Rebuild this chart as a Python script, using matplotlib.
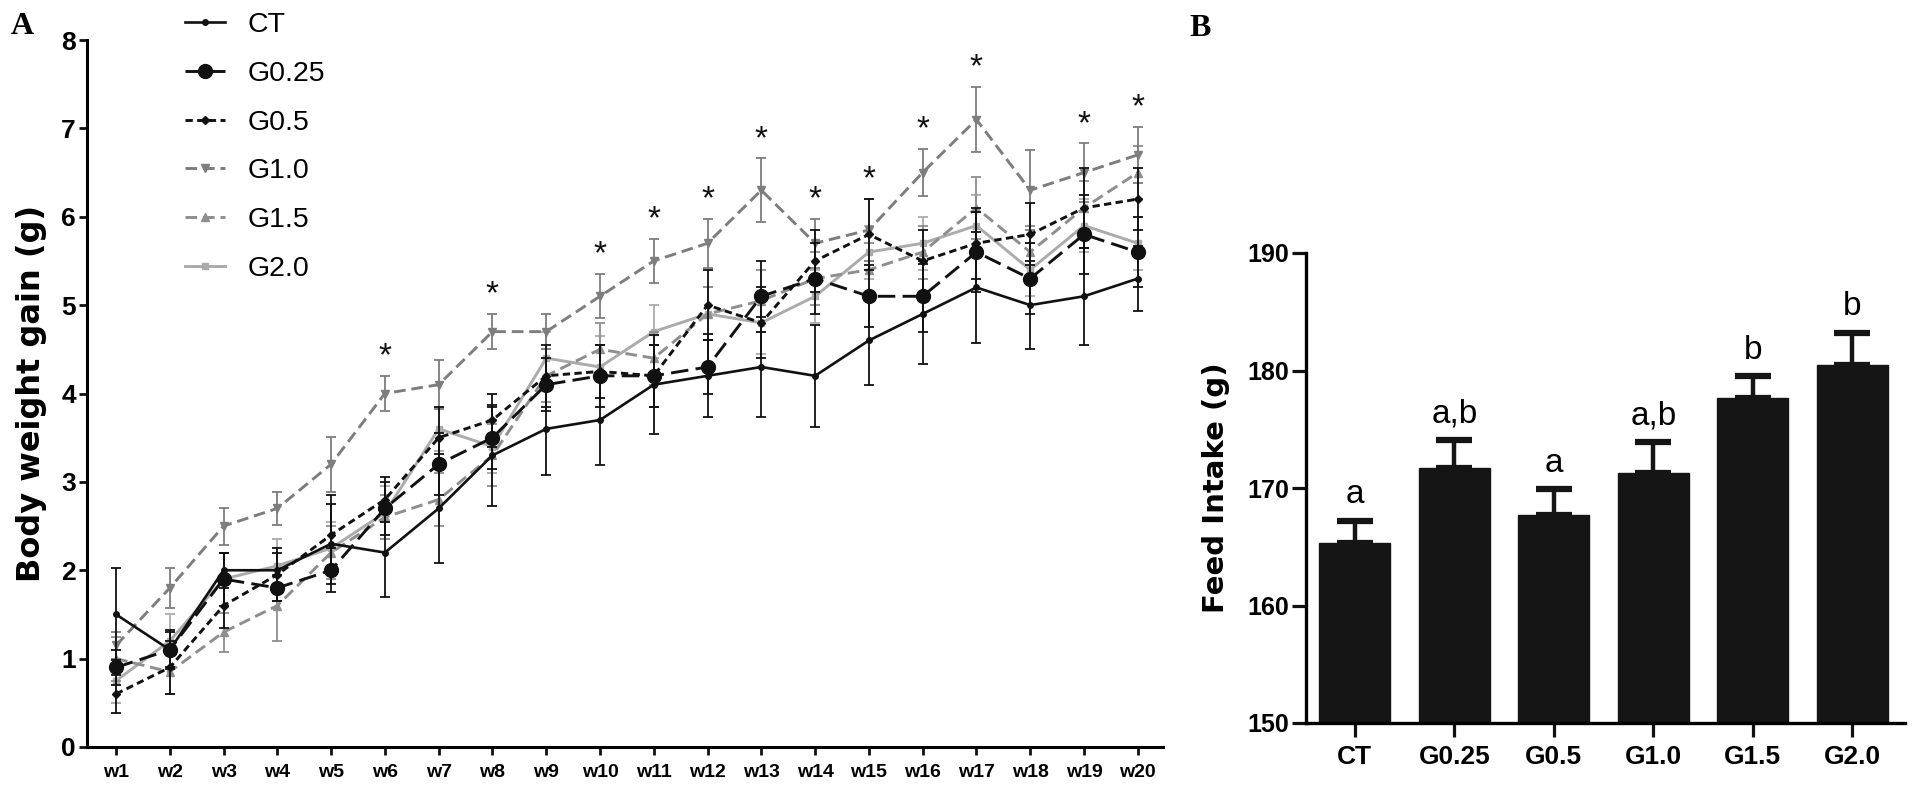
import matplotlib
matplotlib.use('Agg')
import matplotlib.pyplot as plt
from matplotlib import font_manager as fm
from matplotlib.lines import Line2D
import numpy as np

# ---------------- data ----------------
weeks = [f"w{i}" for i in range(1, 21)]
groups = ["CT", "G0.25", "G0.5", "G1.0", "G1.5", "G2.0"]

bw_ct = [1.5, 1.1, 2.0, 2.0, 2.3, 2.2, 2.7, 3.3, 3.6, 3.7, 4.1, 4.2, 4.3, 4.2, 4.6, 4.9, 5.2, 5.0, 5.1, 5.3]
bw_g025 = [0.9, 1.1, 1.9, 1.8, 2.0, 2.7, 3.2, 3.5, 4.1, 4.2, 4.2, 4.3, 5.1, 5.3, 5.1, 5.1, 5.6, 5.3, 5.8, 5.6]
bw_g05 = [0.6, 0.9, 1.6, 1.95, 2.4, 2.8, 3.5, 3.7, 4.2, 4.25, 4.2, 5.0, 4.8, 5.5, 5.8, 5.5, 5.7, 5.8, 6.1, 6.2]
bw_g10 = [1.15, 1.8, 2.5, 2.7, 3.2, 4.0, 4.1, 4.7, 4.7, 5.1, 5.5, 5.7, 6.3, 5.7, 5.85, 6.5, 7.1, 6.3, 6.5, 6.7]
bw_g15 = [1.0, 0.85, 1.3, 1.6, 2.2, 2.6, 2.8, 3.3, 4.2, 4.5, 4.4, 4.9, 5.05, 5.3, 5.4, 5.6, 6.1, 5.6, 6.1, 6.5]
bw_g20 = [0.75, 1.2, 1.9, 2.05, 2.25, 2.65, 3.6, 3.4, 4.4, 4.3, 4.7, 4.9, 4.8, 5.1, 5.6, 5.7, 5.9, 5.4, 5.9, 5.7]

err_ct = [0.52, 0.22, 0.2, 0.2, 0.45, 0.5, 0.62, 0.57, 0.52, 0.51, 0.56, 0.47, 0.57, 0.58, 0.5, 0.57, 0.63, 0.5, 0.55, 0.37]
err_g025 = [0.2, 0.2, 0.3, 0.15, 0.25, 0.3, 0.35, 0.35, 0.3, 0.35, 0.35, 0.3, 0.4, 0.4, 0.35, 0.4, 0.45, 0.4, 0.45, 0.4]
err_g05 = [0.22, 0.3, 0.25, 0.3, 0.45, 0.25, 0.35, 0.3, 0.35, 0.3, 0.35, 0.4, 0.4, 0.35, 0.4, 0.35, 0.4, 0.35, 0.45, 0.35]
err_g10 = [0.15, 0.23, 0.21, 0.19, 0.31, 0.2, 0.28, 0.2, 0.2, 0.25, 0.25, 0.28, 0.36, 0.28, 0.35, 0.27, 0.37, 0.45, 0.33, 0.32]
err_g15 = [0.25, 0.25, 0.22, 0.4, 0.3, 0.25, 0.3, 0.35, 0.3, 0.3, 0.3, 0.3, 0.35, 0.3, 0.3, 0.3, 0.35, 0.3, 0.3, 0.3]
err_g20 = [0.25, 0.3, 0.3, 0.3, 0.3, 0.3, 0.25, 0.3, 0.3, 0.35, 0.3, 0.3, 0.35, 0.3, 0.3, 0.3, 0.35, 0.3, 0.3, 0.3]

star_weeks = ["w6", "w8", "w10", "w11", "w12", "w13", "w14", "w15", "w16", "w17", "w19", "w20"]

feed_groups = ["CT", "G0.25", "G0.5", "G1.0", "G1.5", "G2.0"]
feed_mean = [165.3, 171.7, 167.7, 171.3, 177.7, 180.5]
feed_err = [1.9, 2.4, 2.2, 2.6, 1.8, 2.7]
feed_letters = ["a", "a,b", "a", "a,b", "b", "b"]

# ---------------- fonts ----------------
names = {f.name for f in fm.fontManager.ttflist}
SANS = 'Liberation Sans' if 'Liberation Sans' in names else 'DejaVu Sans'
NARROW = 'Liberation Sans Narrow' if 'Liberation Sans Narrow' in names else SANS
SERIF = 'Liberation Serif' if 'Liberation Serif' in names else 'DejaVu Serif'
WIDE = 'DejaVu Sans'
plt.rcParams['font.family'] = [SANS, 'DejaVu Sans']

W, H = 1920, 792
fig = plt.figure(figsize=(W / 100, H / 100), dpi=100)


def px_axes(x0, y0, x1, y1):
    return fig.add_axes([x0 / W, 1 - y1 / H, (x1 - x0) / W, (y1 - y0) / H])


# ---------------- panel A ----------------
AX0, AX1 = 87, 1163
ax = px_axes(AX0, 40, AX1, 747)
x = np.arange(1, len(weeks) + 1)

series = [
    ("CT", bw_ct, err_ct, dict(color='#111111', ls='-', marker='o', ms=4, lw=1.9), 10),
    ("G0.25", bw_g025, err_g025, dict(color='#111111', ls=(0, (6, 2.5)), marker='o', ms=10, lw=2.1), 9),
    ("G0.5", bw_g05, err_g05, dict(color='#111111', ls=(0, (2.5, 1.5)), marker='D', ms=4.5, lw=2.1), 8),
    ("G1.0", bw_g10, err_g10, dict(color='#7d7d7d', ls=(0, (4, 2)), marker='v', ms=6, lw=2.1), 6),
    ("G1.5", bw_g15, err_g15, dict(color='#8e8e8e', ls=(0, (4, 2)), marker='^', ms=6, lw=2.1), 5),
    ("G2.0", bw_g20, err_g20, dict(color='#ababab', ls='-', marker='s', ms=5, lw=2.1), 4),
]

handles = []
for name, vals, errs, st, z in series:
    ax.errorbar(x, vals, yerr=errs, color=st['color'], ecolor=st['color'],
                elinewidth=1.3, capsize=3.8, capthick=1.3,
                ls=st['ls'], marker=st['marker'], ms=st['ms'], lw=st['lw'],
                mec=st['color'], mfc=st['color'], zorder=z)
    handles.append(Line2D([], [], color=st['color'], ls=st['ls'], marker=st['marker'],
                          ms=st['ms'], lw=st['lw'], mec=st['color'], mfc=st['color']))

# significance stars above G1.0
for wk in star_weeks:
    i = weeks.index(wk)
    ax.text(x[i], bw_g10[i] + err_g10[i] + 0.04, "*", ha='center', va='bottom',
            fontsize=24, color='#111111')

ax.set_xlim(0.46, 20.47)
ax.set_ylim(0, 8)
ax.set_xticks(x)
ax.set_xticklabels(weeks, fontsize=14, fontweight='bold')
ax.set_yticks(range(0, 9))
ax.set_yticklabels([str(v) for v in range(0, 9)], fontsize=19, fontweight='bold')
for s in ['top', 'right']:
    ax.spines[s].set_visible(False)
for s in ['left', 'bottom']:
    ax.spines[s].set_linewidth(2.2)
ax.tick_params(axis='both', length=6, width=2, direction='out', color='#111111')
ax.tick_params(axis='x', pad=6)
ax.tick_params(axis='y', pad=2)
ax.set_ylabel("Body weight gain (g)", fontsize=23, fontweight='bold', family=WIDE)
ax.yaxis.set_label_coords((47 - AX0) / (AX1 - AX0), 0.5)

fs_leg = 20.5
leg = ax.legend(handles, groups, loc='upper left', bbox_to_anchor=(185 / W, 1 - 12 / H),
                bbox_transform=fig.transFigure, frameon=False, fontsize=fs_leg,
                handlelength=1.4, handletextpad=0.8, labelspacing=0.8, borderpad=0,
                borderaxespad=0)

fig.text(22 / W, 1 - 26 / H, "A", family=SERIF, fontweight='bold', fontsize=23,
         ha='center', va='center')

# ---------------- panel B ----------------
BX0, BX1 = 1306, 1905
ax2 = px_axes(BX0, 253, BX1, 723)
xb = np.arange(len(feed_groups))
ax2.bar(xb, [m - 150 for m in feed_mean], bottom=150, width=0.71, color='#151515',
        edgecolor='#151515', zorder=2)
ax2.errorbar(xb, feed_mean, yerr=[np.zeros(len(feed_err)), feed_err], fmt='none',
             ecolor='#151515', elinewidth=3.2, capsize=13, capthick=4.5, zorder=1)
for xi, m, e, lab in zip(xb, feed_mean, feed_err, feed_letters):
    ax2.text(xi, m + e + 0.9, lab, ha='center', va='bottom', fontsize=24, family=NARROW)

ax2.set_xlim(-0.49, 5.53)
ax2.set_ylim(150, 190)
ax2.set_yticks([150, 160, 170, 180, 190])
ax2.set_yticklabels(['150', '160', '170', '180', '190'], fontsize=18, fontweight='bold',
                    family=NARROW)
ax2.set_xticks(xb)
ax2.set_xticklabels(feed_groups, fontsize=19, fontweight='bold', family=NARROW)
for s in ['top', 'right']:
    ax2.spines[s].set_visible(False)
for s in ['left', 'bottom']:
    ax2.spines[s].set_linewidth(2.4)
ax2.tick_params(axis='both', length=10, width=2.3, direction='out', color='#111111')
ax2.tick_params(axis='x', pad=6)
ax2.tick_params(axis='y', pad=2)
ax2.set_ylabel("Feed Intake (g)", fontsize=21, fontweight='bold', family=WIDE)
ax2.yaxis.set_label_coords((1230 - BX0) / (BX1 - BX0), 0.5)

fig.text(1200 / W, 1 - 28 / H, "B", family=SERIF, fontweight='bold', fontsize=23,
         ha='center', va='center')

fig.savefig("out.png", dpi=100, facecolor='white')
